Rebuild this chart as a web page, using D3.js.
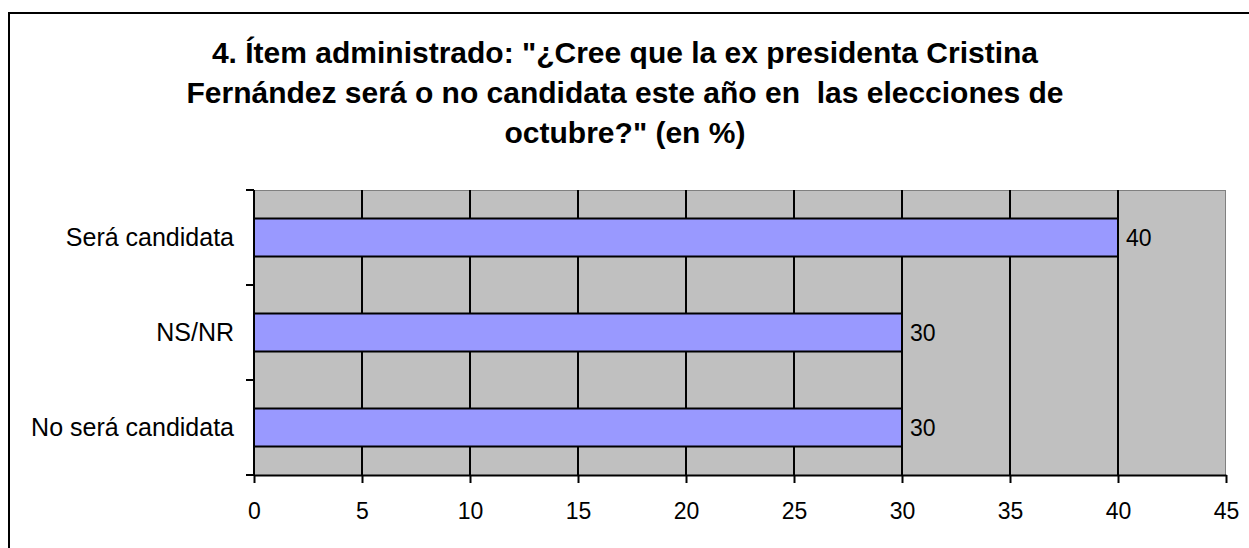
<!DOCTYPE html>
<html><head><meta charset="utf-8">
<script src="https://cdn.jsdelivr.net/npm/d3@7"></script>
<style>body{margin:0;background:#fff}svg{display:block}</style>
</head><body>
<script>
const titleLines = ["4. Ítem administrado: \"¿Cree que la ex presidenta Cristina", "Fernández será o no candidata este año en  las elecciones de", "octubre?\" (en %)"];
const categories = ["Será candidata", "NS/NR", "No será candidata"];
const values = [40, 30, 30];
const xTicks = [0, 5, 10, 15, 20, 25, 30, 35, 40, 45];

const W = 1249, H = 548;
const svg = d3.select("body").append("svg").attr("width", W).attr("height", H);
svg.append("rect").attr("x", 9).attr("y", 13).attr("width", W).attr("height", H).attr("fill", "#fff").attr("stroke", "#000").attr("stroke-width", 2);

const font = "Liberation Sans, Arial, sans-serif";
svg.append("g").selectAll("text").data(titleLines).join("text")
  .attr("x", 625).attr("y", (d, i) => 63 + i * 40)
  .attr("text-anchor", "middle").attr("font-family", font).attr("font-weight", "bold").attr("font-size", 30)
  .style("white-space", "pre")
  .text(d => d);

const L = 254, R = 1226, T = 190, B = 475;
const x = d3.scaleLinear().domain([0, 45]).range([L, R]);
const y = d3.scaleBand().domain(categories).range([T, B]).paddingInner(0.6).paddingOuter(0.3);
const yb = d3.scaleBand().domain(categories).range([T, B]);

svg.append("rect").attr("x", L).attr("y", T).attr("width", R - L).attr("height", B - T).attr("fill", "#C0C0C0");
svg.append("line").attr("x1", L).attr("x2", R).attr("y1", T + 0.5).attr("y2", T + 0.5).attr("stroke", "#808080");
svg.append("line").attr("x1", R - 0.5).attr("x2", R - 0.5).attr("y1", T).attr("y2", B).attr("stroke", "#808080");

svg.append("g").selectAll("line").data(xTicks.filter(t => t > 0 && t < 45)).join("line")
  .attr("x1", d => x(d)).attr("x2", d => x(d)).attr("y1", T).attr("y2", B)
  .attr("stroke", "#000").attr("stroke-width", 2);

svg.append("g").selectAll("rect").data(values).join("rect")
  .attr("x", x(0)).attr("y", (d, i) => y(categories[i]))
  .attr("width", d => x(d) - x(0)).attr("height", y.bandwidth())
  .attr("fill", "#9999FF").attr("stroke", "#000").attr("stroke-width", 2);

svg.append("g").selectAll("text").data(values).join("text")
  .attr("x", d => x(d) + 8).attr("y", (d, i) => y(categories[i]) + y.bandwidth() / 2)
  .attr("dy", "0.35em").attr("font-family", font).attr("font-size", 23).text(d => d);

// x axis
const xAxis = svg.append("g").attr("transform", `translate(0,${B})`)
  .call(d3.axisBottom(x).tickValues(xTicks).tickSize(8).tickPadding(20).tickSizeOuter(0));
xAxis.select(".domain").attr("stroke", "#000").attr("stroke-width", 2);
xAxis.selectAll(".tick line").attr("stroke", "#000").attr("stroke-width", 2);
xAxis.selectAll("text").attr("font-family", font).attr("font-size", 23).attr("fill", "#000");

// y axis: ticks at band boundaries
const yAxis = svg.append("g").attr("transform", `translate(${L},0)`);
yAxis.append("line").attr("x1", 0).attr("x2", 0).attr("y1", T).attr("y2", B + 1).attr("stroke", "#000").attr("stroke-width", 2);
const bounds = categories.map(c => yb(c)).concat([B]);
yAxis.selectAll("line.tk").data(bounds).join("line").attr("class", "tk")
  .attr("x1", -8).attr("x2", 0).attr("y1", d => d).attr("y2", d => d).attr("stroke", "#000").attr("stroke-width", 2);
yAxis.selectAll("text").data(categories).join("text")
  .attr("x", -20).attr("y", d => yb(d) + yb.bandwidth() / 2).attr("dy", "0.35em")
  .attr("text-anchor", "end").attr("font-family", font).attr("font-size", 25).text(d => d);
</script>
</body></html>
